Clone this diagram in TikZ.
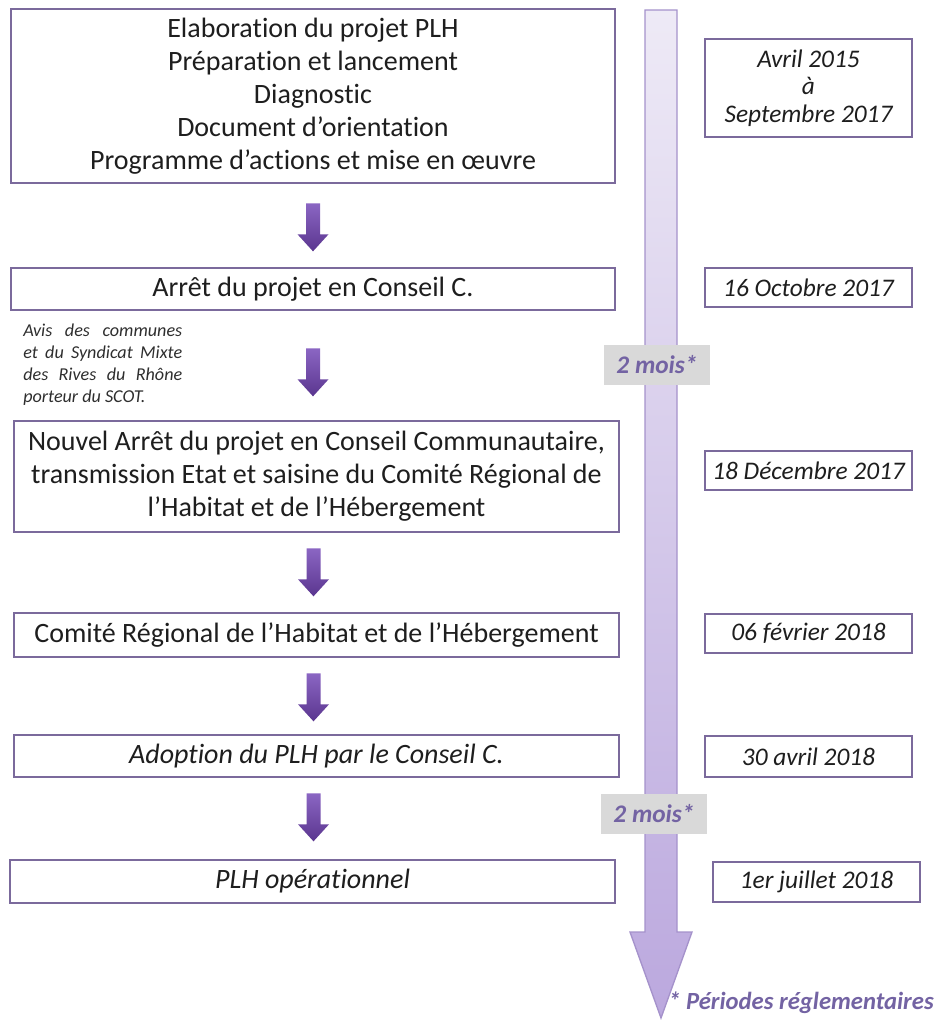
\documentclass[tikz,border=0pt]{standalone}
\usepackage{fontspec}
\setmainfont[Ligatures=NoCommon]{Carlito}
\usetikzlibrary{calc}
\newdimen\pxu \pxu=0.75pt
\definecolor{boxline}{HTML}{7B6A9C}
\definecolor{tltop}{HTML}{EEEAF6}
\definecolor{tlbot}{HTML}{BBA8DE}
\definecolor{tlborder}{HTML}{A592CB}
\definecolor{arrtop}{HTML}{8B66C3}
\definecolor{arrbot}{HTML}{5A368F}
\definecolor{labtxt}{HTML}{7363A3}
\definecolor{labbg}{HTML}{D9D9D9}
\definecolor{txt}{HTML}{1E1E1E}
\definecolor{notetxt}{HTML}{2E2E2E}
\newcommand\dnarr[1]{\path[top color=arrtop, bottom color=arrbot] #1 ++(-7,0) -- ++(14,0) -- ++(0,31) -- ++(8.5,0) -- ++(-15.5,17) -- ++(-15.5,-17) -- ++(8.5,0) -- cycle;}
\begin{document}
\begin{tikzpicture}[x=0.75pt,y=-0.75pt,
  box/.style 2 args={draw=boxline, line width=2pt, fill=white, inner sep=0pt, text=txt, align=center, font=\fontsize{21}{24.75}\selectfont, minimum width=#1\pxu, minimum height=#2\pxu},
  ibox/.style 2 args={box={#1}{#2}, font=\fontsize{21}{24.75}\selectfont\itshape},
  datebox/.style 2 args={draw=boxline, line width=2pt, fill=white, inner sep=0pt, text=txt, align=center, font=\fontsize{19}{20.6}\selectfont\itshape, minimum width=#1\pxu, minimum height=#2\pxu},
  lab/.style={fill=labbg, text=labtxt, font=\fontsize{19}{21}\selectfont\bfseries\itshape, inner sep=0pt, minimum width=106\pxu, minimum height=40\pxu},
  note/.style={text=notetxt, align=left, inner sep=0pt, font=\fontsize{13.6}{16.5}\selectfont\itshape},
  foot/.style={text=labtxt, inner sep=0pt, font=\fontsize{18.5}{21}\selectfont\bfseries\itshape}
]
\useasboundingbox (0,0) rectangle (937,1028);
% timeline arrow
\path[top color=tltop, bottom color=tlbot, draw=tlborder, line width=1pt]
  (645,10) -- (677,10) -- (677,932) -- (692,932) -- (661,1018) -- (630,932) -- (645,932) -- cycle;
% left boxes
\node[box={604}{174}] (b1) at (313,96) {Elaboration du projet PLH\\Préparation et lancement\\Diagnostic\\Document d’orientation\\Programme d’actions et mise en œuvre};
\node[box={604}{42}] (b2) at (313,289) {Arrêt du projet en Conseil C.};
\node[box={605}{111}] (b3) at (316.5,476.5) {Nouvel Arrêt du projet en Conseil Communautaire,\\transmission Etat et saisine du Comité Régional de\\l’Habitat et de l’Hébergement};
\node[box={605}{44}] (b4) at (316.5,635) {Comité Régional de l’Habitat et de l’Hébergement};
\node[ibox={605}{42}] (b5) at (316.5,756) {Adoption du PLH par le Conseil C.};
\node[ibox={605}{43}] (b6) at (312.5,881.5) {PLH opérationnel};
% note
\node[note, anchor=north west] (note) at (23,324) {\hbox to 159\pxu{Avis\hfill des\hfill communes}\\\hbox to 159\pxu{et\hfill du\hfill Syndicat\hfill Mixte}\\\hbox to 159\pxu{des\hfill Rives\hfill du\hfill Rhône}\\porteur du SCOT.};
% down arrows
\dnarr{($(b1.south)+(0,19)$)}
\dnarr{($(b2.south)+(0,37)$)}
\dnarr{($(b3.south)+(-3,15)$)}
\dnarr{($(b4.south)+(-3,15)$)}
\dnarr{($(b5.south)+(-3,15)$)}
% date boxes
\node[datebox={207}{98}] (d1) at (808.5,88) {Avril 2015\\à\\Septembre 2017};
\node[datebox={207}{39}] (d2) at (808.5,287.5) {16 Octobre 2017};
\node[datebox={207}{39}] (d3) at (808.5,470.5) {18 Décembre 2017};
\node[datebox={207}{39}] (d4) at (808.5,633.5) {06 février 2018};
\node[datebox={207}{41}] (d5) at (808.5,756.5) {30 avril 2018};
\node[datebox={207}{40}] (d6) at (816.5,882) {1er juillet 2018};
% period labels
\node[lab] (m1) at (657,365) {2 mois*};
\node[lab] (m2) at (654,814) {2 mois*};
% footnote
\node[foot, anchor=west] (fn) at (668,1003) {* Périodes réglementaires};
\end{tikzpicture}
\end{document}
